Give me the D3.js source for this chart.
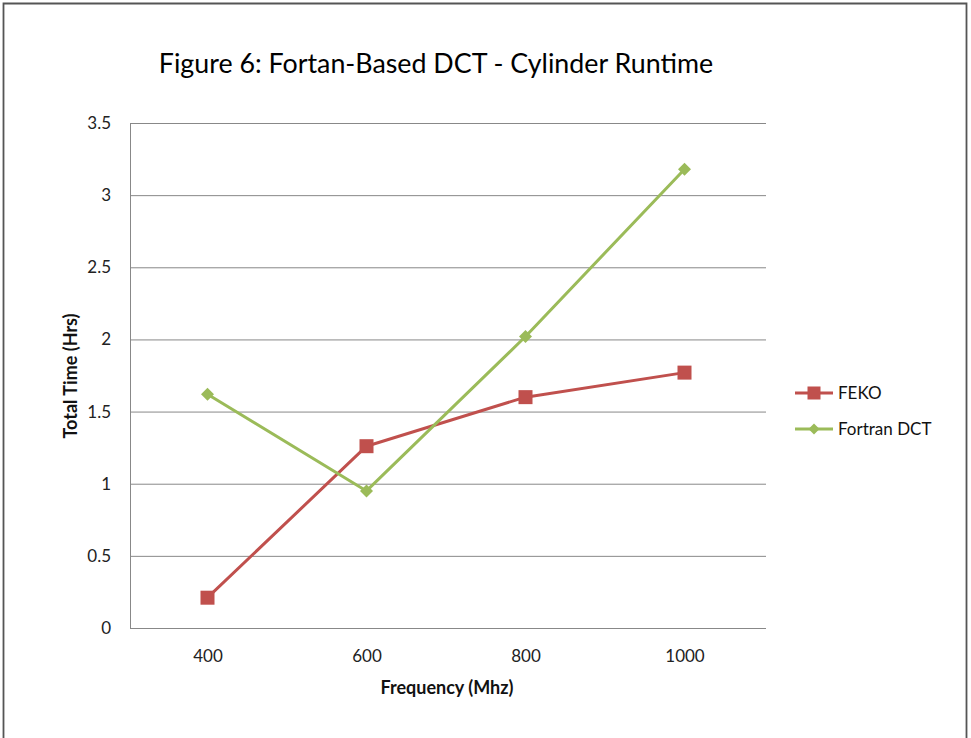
<!DOCTYPE html>
<html>
<head>
<meta charset="utf-8">
<script src="https://cdn.jsdelivr.net/npm/d3@7"></script>
<style>
  body { margin: 0; background: #fff; }
  svg text { font-family: Lato, "Open Sans", sans-serif; }
</style>
</head>
<body>
<script>
// Chart data
var frequencies = ["400", "600", "800", "1000"];
var fekoHours = [0.21, 1.26, 1.60, 1.77];
var fortranHours = [1.62, 0.95, 2.02, 3.18];
var yTicks = [0, 0.5, 1, 1.5, 2, 2.5, 3, 3.5];

var seriesList = [
  { name: "FEKO", values: fekoHours, color: "#C0504D", marker: "square" },
  { name: "Fortran DCT", values: fortranHours, color: "#9BBB59", marker: "diamond" }
];

var width = 971, height = 738;
var plot = { left: 130, right: 766, top: 123, bottom: 628 };

var svg = d3.select("body").append("svg")
    .attr("width", width)
    .attr("height", height);

// outer frame (no bottom edge visible)
svg.append("path")
    .attr("d", "M3.5,740 L3.5,3.5 L966.5,3.5 L966.5,740")
    .attr("fill", "none")
    .attr("stroke", "#555")
    .attr("stroke-width", 1.8);

var x = d3.scalePoint()
    .domain(frequencies)
    .range([plot.left - 2, plot.right - 2])
    .padding(0.5);

var y = d3.scaleLinear()
    .domain([0, 3.5])
    .range([plot.bottom, plot.top]);

// gridlines + y labels
var yAxis = d3.axisLeft(y)
    .tickValues(yTicks)
    .tickSize(-(plot.right - plot.left))
    .tickPadding(19)
    .tickFormat(d3.format("~g"));

var gy = svg.append("g")
    .attr("transform", "translate(" + plot.left + ",0)")
    .call(yAxis);
gy.select(".domain").attr("stroke", "#888");
gy.selectAll(".tick line").attr("stroke", "#888").attr("stroke-width", 1);
gy.selectAll(".tick text")
    .attr("fill", "#222")
    .style("font-size", "17px");

// x axis
var xAxis = d3.axisBottom(x).tickSize(0).tickPadding(22);
var gx = svg.append("g")
    .attr("transform", "translate(0," + plot.bottom + ")")
    .call(xAxis);
gx.select(".domain").remove();
gx.selectAll(".tick text")
    .attr("fill", "#222")
    .style("font-size", "17px");

svg.append("line")
    .attr("x1", plot.left).attr("x2", plot.right)
    .attr("y1", plot.bottom + 0.5).attr("y2", plot.bottom + 0.5)
    .attr("stroke", "#888");

// title
svg.append("text")
    .attr("x", 436)
    .attr("y", 73)
    .attr("text-anchor", "middle")
    .style("font-size", "26.8px")
    .attr("fill", "#000")
    .text("Figure 6: Fortan-Based DCT - Cylinder Runtime");

// axis titles
svg.append("text")
    .attr("x", 447)
    .attr("y", 694)
    .attr("text-anchor", "middle")
    .style("font-size", "18px")
    .style("font-weight", "bold")
    .attr("fill", "#111")
    .text("Frequency (Mhz)");

svg.append("text")
    .attr("transform", "translate(77,376) rotate(-90)")
    .attr("text-anchor", "middle")
    .style("font-size", "18px")
    .style("font-weight", "bold")
    .attr("fill", "#111")
    .text("Total Time (Hrs)");

var line = d3.line()
    .x(function(d, i) { return x(frequencies[i]); })
    .y(function(d) { return y(d); });

function drawMarker(g, type, cx, cy, size, color) {
  if (type === "square") {
    g.append("rect")
      .attr("x", cx - size / 2).attr("y", cy - size / 2)
      .attr("width", size).attr("height", size)
      .attr("fill", color);
  } else {
    var h = size / 2;
    g.append("path")
      .attr("d", "M" + cx + "," + (cy - h) + " L" + (cx + h) + "," + cy +
                 " L" + cx + "," + (cy + h) + " L" + (cx - h) + "," + cy + " Z")
      .attr("fill", color);
  }
}

seriesList.forEach(function(s) {
  svg.append("path")
      .datum(s.values)
      .attr("d", line)
      .attr("fill", "none")
      .attr("stroke", s.color)
      .attr("stroke-width", 3)
      .attr("stroke-linejoin", "round");

  var mg = svg.append("g");
  s.values.forEach(function(v, i) {
    drawMarker(mg, s.marker, x(frequencies[i]), y(v), s.marker === "square" ? 14 : 13, s.color);
  });
});

// legend
var legend = svg.append("g").attr("transform", "translate(795,393)");
seriesList.forEach(function(s, i) {
  var row = legend.append("g").attr("transform", "translate(0," + (i * 36) + ")");
  row.append("line")
      .attr("x1", 0).attr("x2", 38)
      .attr("y1", 0).attr("y2", 0)
      .attr("stroke", s.color)
      .attr("stroke-width", 3);
  drawMarker(row, s.marker, 19, 0, s.marker === "square" ? 13 : 11, s.color);
  row.append("text")
      .attr("x", 43)
      .attr("y", 6)
      .style("font-size", "17px")
      .attr("fill", "#111")
      .text(s.name);
});
</script>
</body>
</html>
